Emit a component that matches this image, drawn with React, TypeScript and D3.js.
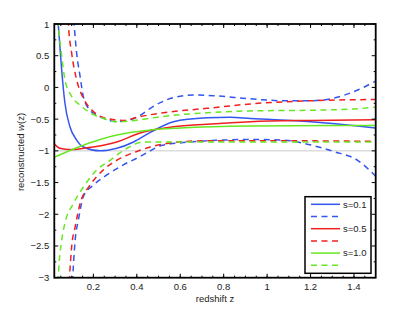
import React from "react";
import * as d3 from "d3";

const width = 415;
const height = 313;

// data: [redshift z, w(z)]
const blueMean = [[0.028, 1.4], [0.038, 1.0], [0.054, 0.27], [0.069, -0.25], [0.092, -0.62], [0.123, -0.83], [0.154, -0.94], [0.231, -1.0], [0.308, -0.96], [0.385, -0.86], [0.462, -0.71], [0.569, -0.54], [0.723, -0.48], [0.83, -0.47], [0.923, -0.49], [1.2, -0.54], [1.3, -0.57], [1.5, -0.64]];
const blueUpper = [[0.102, 1.4], [0.111, 1.0], [0.123, 0.54], [0.139, 0.17], [0.154, -0.15], [0.185, -0.36], [0.231, -0.46], [0.308, -0.54], [0.369, -0.51], [0.415, -0.44], [0.462, -0.33], [0.508, -0.24], [0.569, -0.16], [0.661, -0.12], [0.752, -0.13], [0.923, -0.18], [1.075, -0.21], [1.2, -0.21], [1.306, -0.17], [1.417, -0.04], [1.5, 0.1]];
const blueLower = [[0.1, -3.4], [0.105, -3.0], [0.116, -2.41], [0.131, -2.09], [0.154, -1.72], [0.2, -1.54], [0.262, -1.38], [0.338, -1.22], [0.415, -1.09], [0.462, -1.0], [0.508, -0.92], [0.614, -0.87], [0.798, -0.83], [0.923, -0.82], [1.075, -0.83], [1.152, -0.87], [1.306, -1.01], [1.417, -1.15], [1.5, -1.4]];

const redMean = [[0.02, -0.89], [0.046, -0.96], [0.092, -0.98], [0.154, -0.96], [0.308, -0.86], [0.415, -0.72], [0.462, -0.68], [0.569, -0.62], [0.723, -0.58], [0.923, -0.54], [1.2, -0.52], [1.5, -0.51]];
const redUpper = [[0.08, 1.4], [0.085, 1.0], [0.1, 0.54], [0.123, 0.12], [0.154, -0.17], [0.2, -0.38], [0.262, -0.49], [0.338, -0.52], [0.415, -0.46], [0.569, -0.38], [0.723, -0.33], [0.923, -0.26], [1.2, -0.21], [1.5, -0.19]];
const redLower = [[0.084, -3.4], [0.09, -3.0], [0.1, -2.51], [0.116, -2.2], [0.139, -1.83], [0.185, -1.54], [0.246, -1.3], [0.323, -1.12], [0.4, -1.01], [0.462, -0.94], [0.569, -0.87], [0.723, -0.84], [1.0, -0.84], [1.5, -0.85]];

const greenMean = [[0.02, -1.1], [0.123, -0.95], [0.231, -0.82], [0.308, -0.75], [0.462, -0.67], [0.6, -0.64], [0.923, -0.61], [1.5, -0.6]];
const greenUpper = [[0.03, 1.4], [0.038, 1.0], [0.054, 0.5], [0.069, 0.12], [0.1, -0.14], [0.139, -0.28], [0.185, -0.4], [0.231, -0.47], [0.308, -0.54], [0.369, -0.53], [0.431, -0.5], [0.569, -0.44], [0.723, -0.4], [0.923, -0.37], [1.2, -0.36], [1.4, -0.34], [1.5, -0.31]];
const greenLower = [[0.033, -3.4], [0.038, -3.0], [0.054, -2.41], [0.069, -2.14], [0.108, -1.83], [0.154, -1.57], [0.216, -1.3], [0.277, -1.15], [0.354, -0.96], [0.431, -0.86], [0.6, -0.86], [1.0, -0.86], [1.5, -0.86]];

const xTicks = [0.2, 0.4, 0.6, 0.8, 1, 1.2, 1.4];
const yTicks = [1, 0.5, 0, -0.5, -1, -1.5, -2, -2.5, -3];
const legendLabels = ["s=0.1", "", "s=0.5", "", "s=1.0", ""];

const colors = { blue: "#3355f0", red: "#f02020", green: "#66e822" };

const series = [
  { data: blueMean, color: colors.blue, dashed: false },
  { data: blueUpper, color: colors.blue, dashed: true },
  { data: blueLower, color: colors.blue, dashed: true },
  { data: redMean, color: colors.red, dashed: false },
  { data: redUpper, color: colors.red, dashed: true },
  { data: redLower, color: colors.red, dashed: true },
  { data: greenMean, color: colors.green, dashed: false },
  { data: greenUpper, color: colors.green, dashed: true },
  { data: greenLower, color: colors.green, dashed: true },
];

const legendItems = [
  { color: colors.blue, dashed: false },
  { color: colors.blue, dashed: true },
  { color: colors.red, dashed: false },
  { color: colors.red, dashed: true },
  { color: colors.green, dashed: false },
  { color: colors.green, dashed: true },
];

const fmt = (v: number) => String(v).replace("-", "\u2212");

export default function App() {
  const x = d3.scaleLinear().domain([0.02, 1.5]).range([54.3, 375.7]);
  const y = d3.scaleLinear().domain([-3, 1]).range([277.7, 24]);
  const line = d3
    .line<number[]>()
    .x((d) => x(d[0]))
    .y((d) => y(d[1]))
    .curve(d3.curveMonotoneX);

  const [x0, x1] = x.range();
  const [y0, y1] = y.range();
  const xMinor = d3.range(0.05, 1.5, 0.05).filter((v) => v > 0.02);
  const yMinor = d3.range(-2.75, 1, 0.5);
  const font = "'Liberation Sans', Arial, sans-serif";

  return (
    <div style={{ position: "absolute", left: 0, top: 0 }}>
      <svg width={width} height={height} style={{ display: "block", background: "#fff" }}>
        <defs>
          <clipPath id="plot">
            <rect x={x0} y={y1} width={x1 - x0} height={y0 - y1} />
          </clipPath>
        </defs>
        <line x1={x0} x2={x1} y1={y(-1)} y2={y(-1)} stroke="#cccccc" strokeWidth={1} />
        <g clipPath="url(#plot)" fill="none">
          {series.map((s, i) => (
            <path
              key={i}
              d={line(s.data as any) || ""}
              stroke={s.color}
              strokeWidth={1.5}
              strokeDasharray={s.dashed ? "6,4.5" : undefined}
            />
          ))}
        </g>
        {/* ticks, inward on all four sides */}
        <g stroke="#000" strokeWidth={1}>
          {xTicks.map((t) => (
            <g key={"x" + t}>
              <line x1={x(t)} x2={x(t)} y1={y0} y2={y0 - 4} />
              <line x1={x(t)} x2={x(t)} y1={y1} y2={y1 + 4} />
            </g>
          ))}
          {xMinor.map((t, i) => (
            <g key={"xm" + i}>
              <line x1={x(t)} x2={x(t)} y1={y0} y2={y0 - 2} />
              <line x1={x(t)} x2={x(t)} y1={y1} y2={y1 + 2} />
            </g>
          ))}
          {yTicks.map((t) => (
            <g key={"y" + t}>
              <line x1={x0} x2={x0 + 4} y1={y(t)} y2={y(t)} />
              <line x1={x1} x2={x1 - 4} y1={y(t)} y2={y(t)} />
            </g>
          ))}
          {yMinor.map((t, i) => (
            <g key={"ym" + i}>
              <line x1={x0} x2={x0 + 2} y1={y(t)} y2={y(t)} />
              <line x1={x1} x2={x1 - 2} y1={y(t)} y2={y(t)} />
            </g>
          ))}
        </g>
        <rect x={x0} y={y1} width={x1 - x0} height={y0 - y1} fill="none" stroke="#000" strokeWidth={1.8} />
        <g fontFamily={font} fontSize={9.5} fill="#222">
          {xTicks.map((t) => (
            <text key={"xl" + t} x={x(t)} y={y0 + 12.5} textAnchor="middle">
              {fmt(t)}
            </text>
          ))}
          {yTicks.map((t) => (
            <text key={"yl" + t} x={x0 - 5} y={y(t) + 3.5} textAnchor="end">
              {fmt(t)}
            </text>
          ))}
          <text x={215} y={302} textAnchor="middle">redshift z</text>
          <text transform={`translate(24,152) rotate(-90)`} textAnchor="middle">
            reconstructed <tspan fontStyle="italic">w</tspan>(z)
          </text>
        </g>
        {/* legend */}
        <g>
          <rect x={305} y={196.7} width={66} height={76.6} fill="#fff" stroke="#000" strokeWidth={1.5} />
          {legendItems.map((it, i) => {
            const ly = 204.3 + i * 12.2;
            return (
              <g key={"lg" + i}>
                <line
                  x1={311}
                  x2={340}
                  y1={ly}
                  y2={ly}
                  stroke={it.color}
                  strokeWidth={1.5}
                  strokeDasharray={it.dashed ? "6,4.5" : undefined}
                />
                {legendLabels[i] && (
                  <text x={343} y={ly + 3.3} fontFamily={font} fontSize={9.5} fill="#222">
                    {legendLabels[i]}
                  </text>
                )}
              </g>
            );
          })}
        </g>
      </svg>
    </div>
  );
}
